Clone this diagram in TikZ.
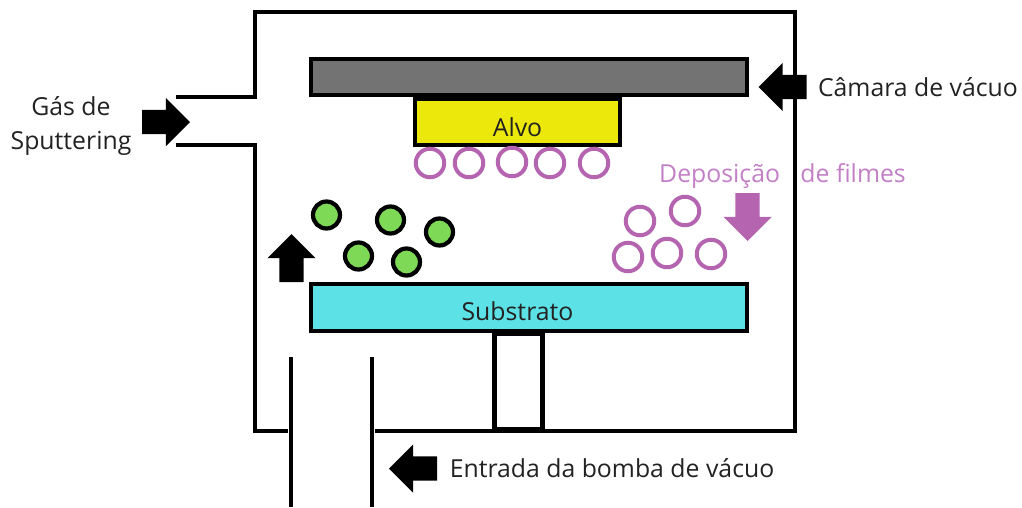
\documentclass[tikz,border=0pt]{standalone}
\usepackage{fontspec}
\setmainfont{Open Sans}
\usetikzlibrary{shapes.arrows}
\definecolor{platecolor}{HTML}{737373}
\definecolor{alvocolor}{HTML}{ECE80B}
\definecolor{substratocolor}{HTML}{5CE1E6}
\definecolor{gascolor}{HTML}{7ED957}
\definecolor{filmecolor}{HTML}{B565B0}
\definecolor{filmetext}{HTML}{C27FC6}
\definecolor{labelcolor}{HTML}{222222}
\tikzset{
  wall/.style={line width=4pt},
  plate/.style={rectangle, draw, line width=4pt, inner sep=0pt, outer sep=0pt},
  gasball/.style={circle, draw, line width=4.2pt, fill=gascolor, minimum size=27pt, inner sep=0pt},
  filmball/.style={circle, draw=filmecolor, line width=4pt, fill=white, minimum size=28.5pt, inner sep=0pt},
  bigarrow/.style={single arrow, fill=black, inner xsep=0pt, inner ysep=12pt, outer sep=0pt, minimum height=48pt, single arrow head extend=12pt, single arrow tip angle=90, single arrow head indent=0pt},
  txt/.style={font=\fontsize{24.8}{34.5}\selectfont, text=labelcolor, inner sep=0pt, align=center}
}
\begin{document}
\begin{tikzpicture}[x=1pt, y=-1pt]
        \useasboundingbox (0,0) rectangle (1022,507);

        % Wall points
        \coordinate (gasup) at (176,97);
        \coordinate (gasdown) at (176,145);
        \coordinate (wallleft) at (288,431);
        \coordinate (wallright) at (375,431);
        \coordinate (pipeatop) at (291,357);
        \coordinate (pipeabot) at (291,507);
        \coordinate (pipebtop) at (371.5,357);
        \coordinate (pipebbot) at (371.5,507);

        % Edges
        \draw[wall] (gasup) -- (255,97) -- (255,12) -- (795,12) -- (795,431) -- (wallright);
        \draw[wall] (gasdown) -- (255,145) -- (255,431) -- (wallleft);
        \draw[wall] (pipeatop) -- (pipeabot);
        \draw[wall] (pipebtop) -- (pipebbot);

        % Nodes
        \node[plate, fill=platecolor, minimum width=436pt, minimum height=36pt] (camara) at (529,77) {};
        \node[plate, fill=alvocolor, minimum width=205pt, minimum height=46pt] (alvo) at (517.5,122) {};
        \node[plate, fill=white, minimum width=48pt, minimum height=96pt, line width=5pt] (suporte) at (518,381) {};
        \node[plate, fill=substratocolor, minimum width=436pt, minimum height=47pt] (substrato) at (529,307) {};

        % Film particles
        \foreach \px/\py [count=\i] in {430/163, 469/163, 512/162, 550/163, 594/163, 640/221, 685/211, 628/257, 667/253, 711/254}
          \node[filmball] (film\i) at (\px,\py) {};

        % Gas particles
        \foreach \px/\py [count=\i] in {326.5/215, 390.5/220, 439.5/232, 358.5/256, 406.5/262}
          \node[gasball] (gas\i) at (\px,\py) {};

        % Arrows
        \node[bigarrow, anchor=tip] (arrowgas) at (190,122) {};
        \node[bigarrow, anchor=tip, rotate=180] (arrowcamara) at (758.5,87) {};
        \node[bigarrow, anchor=tip, rotate=90] (arrowup) at (291.5,234) {};
        \node[bigarrow, anchor=tip, rotate=180] (arrowbomba) at (389,468.5) {};
        \node[bigarrow, anchor=tip, rotate=-90, fill=filmecolor] (arrowfilme) at (747.5,241) {};

        % Labels
        \node[txt] (labelalvo) at (517.5,127) {Alvo};
        \node[txt] (labelsubstrato) at (517.5,311) {Substrato};
        \node[txt] (labelgas) at (71,126) {Gás de\\Sputtering};
        \node[txt] (labelcamara) at (918,87) {Câmara de vácuo};
        \node[txt] (labelbomba) at (612,468) {Entrada da bomba de vácuo};
        \node[txt, text=filmetext] (labelfilme) at (782.5,176) {Deposição\hspace{14pt} de filmes};
    \end{tikzpicture}
\end{document}
